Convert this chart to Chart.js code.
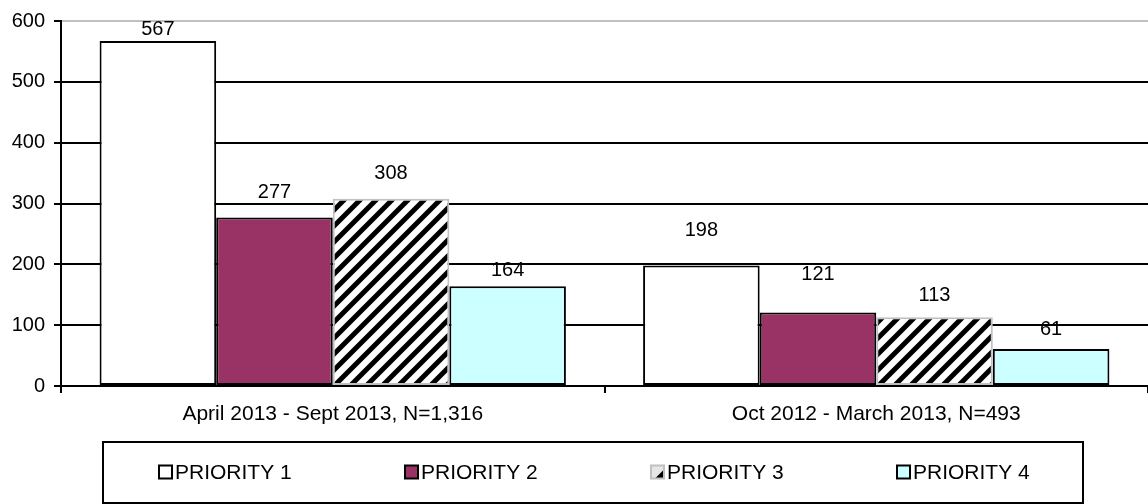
<!DOCTYPE html>
<html>
<head>
<meta charset="utf-8">
<script src="https://cdn.jsdelivr.net/npm/chart.js@4"></script>
<style>
  html, body { margin: 0; padding: 0; background: #fff; }
  #wrap { width: 1148px; height: 504px; position: relative; }
</style>
</head>
<body>
<div id="wrap"><canvas id="c" width="1148" height="504"></canvas></div>
<script>
// ---- data ----
const categories = ['April 2013 - Sept 2013, N=1,316', 'Oct 2012 - March 2013, N=493'];
const seriesNames = ['PRIORITY 1', 'PRIORITY 2', 'PRIORITY 3', 'PRIORITY 4'];
const priority1 = [567, 198];
const priority2 = [277, 121];
const priority3 = [308, 113];
const priority4 = [164, 61];
const yMin = 0, yMax = 600, yStep = 100;

// ---- styles ----
const FONT = 'Liberation Sans, Arial, sans-serif';
// pixel lift of each value label above its bar top (as placed in the reference)
const labelLift = [[12, 35], [25, 38], [25, 22], [16, 19]];

function makeHatch() {
  const s = 16;
  const c = document.createElement('canvas');
  c.width = s; c.height = s;
  const g = c.getContext('2d');
  g.fillStyle = '#fff'; g.fillRect(0, 0, s, s);
  g.strokeStyle = '#000'; g.lineWidth = 5;
  g.beginPath();
  g.moveTo(-4, s + 4); g.lineTo(s + 4, -4);
  g.moveTo(-4, 4); g.lineTo(4, -4);
  g.moveTo(s - 4, s + 4); g.lineTo(s + 4, s - 4);
  g.stroke();
  return g.createPattern(c, 'repeat');
}
const hatch = makeHatch();

const fills = ['#ffffff', '#993366', hatch, '#ccffff'];
const borders = ['#000000', '#000000', '#c0c0c0', '#000000'];
const values = [priority1, priority2, priority3, priority4];

const datasets = seriesNames.map((n, i) => ({
  label: n,
  data: values[i],
  backgroundColor: fills[i],
  borderColor: borders[i],
  borderWidth: 2,
  borderSkipped: false,
  categoryPercentage: 0.858,
  barPercentage: 1.0
}));

const valueLabels = {
  id: 'valueLabels',
  afterDatasetsDraw(chart) {
    const ctx = chart.ctx;
    ctx.save();
    ctx.font = '20px ' + FONT;
    ctx.fillStyle = '#000';
    ctx.textAlign = 'center';
    ctx.textBaseline = 'middle';
    chart.data.datasets.forEach((ds, di) => {
      const meta = chart.getDatasetMeta(di);
      meta.data.forEach((bar, i) => {
        ctx.fillText(String(ds.data[i]), bar.x, bar.y - labelLift[di][i]);
      });
    });
    ctx.restore();
  }
};

const boxLegend = {
  id: 'boxLegend',
  afterDraw(chart) {
    const ctx = chart.ctx;
    const left = 103, top = 442, w = 980, h = 61;
    ctx.save();
    ctx.strokeStyle = '#000';
    ctx.lineWidth = 2;
    ctx.strokeRect(left, top, w, h);
    const cy = top + 30;
    ctx.font = '21px ' + FONT;
    ctx.textBaseline = 'middle';
    ctx.textAlign = 'left';
    chart.data.datasets.forEach((ds, i) => {
      const x = left + 56 + i * 246;
      const sz = 13;
      if (i === 2) {
        ctx.fillStyle = '#e6e6e6';
        ctx.fillRect(x, cy - sz / 2, sz, sz);
        ctx.fillStyle = '#000';
        ctx.beginPath();
        ctx.moveTo(x + sz, cy - sz / 2 + 4);
        ctx.lineTo(x + sz, cy + sz / 2);
        ctx.lineTo(x + 4, cy + sz / 2);
        ctx.closePath();
        ctx.fill();
      } else {
        ctx.fillStyle = ds.backgroundColor;
        ctx.fillRect(x, cy - sz / 2, sz, sz);
      }
      ctx.strokeStyle = ds.borderColor;
      ctx.lineWidth = 2;
      ctx.strokeRect(x, cy - sz / 2, sz, sz);
      ctx.fillStyle = '#000';
      ctx.fillText(ds.label, x + sz + 3, cy + 1);
    });
    ctx.restore();
  }
};

new Chart(document.getElementById('c'), {
  type: 'bar',
  data: { labels: categories, datasets },
  options: {
    responsive: false,
    animation: false,
    events: [],
    layout: { padding: { top: 19, left: 0, right: 0, bottom: 0 } },
    plugins: { legend: { display: false }, tooltip: { enabled: false } },
    scales: {
      x: {
        offset: true,
        grid: { display: true, drawOnChartArea: false, drawTicks: true, tickLength: 7, color: '#000', lineWidth: 2, offset: true },
        border: { display: true, color: '#000', width: 2 },
        ticks: { color: '#000', font: { family: FONT, size: 21 }, padding: 9, maxRotation: 0 },
        afterFit(s) { s.height = 118; }
      },
      y: {
        min: yMin, max: yMax,
        ticks: { stepSize: yStep, color: '#000', font: { family: FONT, size: 20 }, padding: 9 },
        grid: {
          color: (c) => (c.tick && c.tick.value === yMax ? '#c0c0c0' : '#000'),
          tickColor: '#000',
          lineWidth: 2,
          tickLength: 7
        },
        border: { display: true, color: '#000', width: 2 },
        afterFit(s) { s.width = 61; }
      }
    }
  },
  plugins: [valueLabels, boxLegend]
});
</script>
</body>
</html>
